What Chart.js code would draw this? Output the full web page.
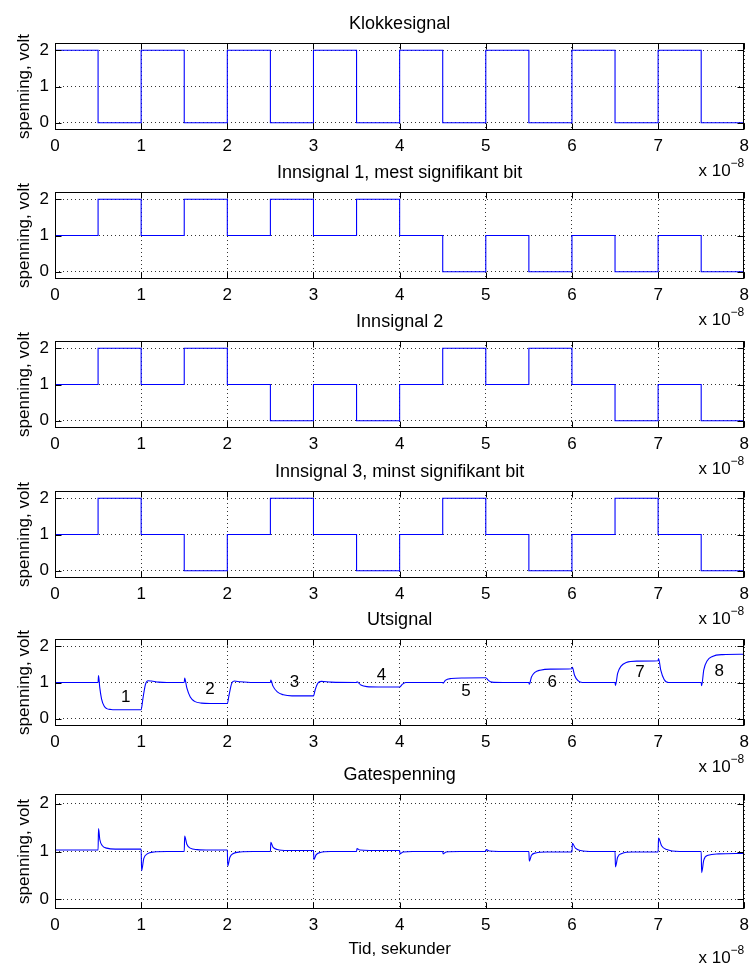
<!DOCTYPE html>
<html>
<head>
<meta charset="utf-8">
<script src="https://cdn.jsdelivr.net/npm/chart.js@4.4.1/dist/chart.umd.min.js"></script>
<style>
    body { margin: 0; background: #fff; width: 755px; height: 967px; position: relative; overflow: hidden; }
    canvas { position: absolute; left: 0; }
</style>
</head>
<body>
<div id="plots"></div>
<script>
// Edge times (x 1e-8 s) and the level held from each edge to the next
const edgeTimes = [0, 0.5, 1, 1.5, 2, 2.5, 3, 3.5, 4, 4.5, 5, 5.5, 6, 6.5, 7, 7.5, 8];
const clockLevels = [2, 0, 2, 0, 2, 0, 2, 0, 2, 0, 2, 0, 2, 0, 2, 0];
const in1Levels = [1, 2, 1, 2, 1, 2, 1, 2, 1, 0, 1, 0, 1, 0, 1, 0];
const in2Levels = [1, 2, 1, 2, 1, 0, 1, 0, 1, 2, 1, 2, 1, 0, 1, 0];
const in3Levels = [1, 2, 1, 0, 1, 2, 1, 0, 1, 2, 1, 0, 1, 2, 1, 0];

// Utsignal
const utTime = [0, 0.5, 0.505, 0.52, 0.54, 0.57, 0.6, 0.65, 0.7, 1.0, 1.02, 1.05, 1.08, 1.12, 1.2, 1.3,
    1.5, 1.505, 1.53, 1.57, 1.62, 1.7, 1.8, 2.0, 2.02, 2.05, 2.08, 2.15, 2.3,
    2.5, 2.505, 2.53, 2.58, 2.65, 2.75, 3.0, 3.02, 3.05, 3.09, 3.2,
    3.5, 3.505, 3.55, 3.62, 3.75, 4.0, 4.03, 4.07,
    4.5, 4.505, 4.53, 4.6, 4.75, 5.0, 5.03, 5.07, 5.2,
    5.5, 5.505, 5.53, 5.57, 5.63, 5.75, 6.0, 6.005, 6.03, 6.07, 6.12,
    6.5, 6.505, 6.53, 6.57, 6.63, 6.75, 7.0, 7.005, 7.03, 7.07, 7.12,
    7.5, 7.505, 7.53, 7.57, 7.63, 7.75, 8.0];
const utVolt = [1.0, 1.0, 1.19, 0.85, 0.55, 0.35, 0.28, 0.255, 0.25, 0.25, 0.55, 0.95, 1.05, 1.04, 1.01, 1.0,
    1.0, 1.12, 0.85, 0.6, 0.48, 0.43, 0.42, 0.42, 0.65, 0.97, 1.04, 1.02, 1.0,
    1.0, 1.07, 0.9, 0.74, 0.66, 0.63, 0.63, 0.8, 0.98, 1.03, 1.01,
    1.0, 1.02, 0.93, 0.885, 0.875, 0.875, 0.95, 1.0,
    1.0, 0.98, 1.06, 1.11, 1.125, 1.13, 1.06, 1.01, 1.0,
    1.0, 0.95, 1.15, 1.28, 1.34, 1.37, 1.38, 1.42, 1.2, 1.05, 1.0,
    1.0, 0.92, 1.25, 1.45, 1.55, 1.59, 1.6, 1.66, 1.35, 1.08, 1.0,
    1.0, 0.91, 1.35, 1.6, 1.72, 1.77, 1.78];

// Gatespenning
const gateTime = [0, 0.5, 0.505, 0.52, 0.55, 0.6, 0.7, 1.0, 1.005, 1.03, 1.07, 1.15, 1.3,
    1.5, 1.505, 1.53, 1.57, 1.65, 1.8, 2.0, 2.005, 2.03, 2.07, 2.15, 2.3,
    2.5, 2.505, 2.53, 2.58, 2.7, 3.0, 3.005, 3.03, 3.08, 3.2,
    3.5, 3.505, 3.54, 3.65, 4.0, 4.005, 4.04, 4.15,
    4.5, 4.505, 4.54, 4.7, 5.0, 5.005, 5.04, 5.15,
    5.5, 5.505, 5.53, 5.58, 5.7, 6.0, 6.005, 6.04, 6.1, 6.25,
    6.5, 6.505, 6.53, 6.58, 6.7, 7.0, 7.005, 7.04, 7.1, 7.25,
    7.5, 7.505, 7.53, 7.58, 7.7, 8.0];
const gateVolt = [1.03, 1.03, 1.48, 1.25, 1.12, 1.07, 1.05, 1.05, 0.6, 0.85, 0.95, 0.99, 1.0,
    1.0, 1.32, 1.15, 1.07, 1.04, 1.03, 1.03, 0.7, 0.88, 0.96, 0.99, 1.0,
    1.0, 1.19, 1.09, 1.04, 1.02, 1.02, 0.83, 0.93, 0.98, 1.0,
    1.0, 1.06, 1.03, 1.02, 1.02, 0.95, 0.99, 1.0,
    1.0, 0.95, 0.99, 1.0, 1.0, 1.04, 1.01, 1.0,
    1.0, 0.8, 0.92, 0.97, 0.99, 0.99, 1.17, 1.07, 1.02, 1.0,
    1.0, 0.68, 0.88, 0.96, 0.99, 0.99, 1.28, 1.12, 1.04, 1.0,
    1.0, 0.56, 0.82, 0.92, 0.95, 0.96];

// numbered steps written into the Utsignal plot
const utLabels = ['1', '2', '3', '4', '5', '6', '7', '8'];
const utLabelTime = [0.82, 1.8, 2.78, 3.79, 4.77, 5.77, 6.79, 7.71];
const utLabelVolt = [0.6, 0.8, 1.0, 1.19, 0.77, 1.0, 1.27, 1.32];

const xTicks = [0, 1, 2, 3, 4, 5, 6, 7, 8];
const yTicks = [0, 1, 2];

const FONT = '"Liberation Sans", Arial, Helvetica, sans-serif';
const PAD_TOP = 40;
const PAD_BOTTOM = 62;

function stepPoints(levels) {
    const pts = levels.map((v, i) => ({ x: edgeTimes[i], y: v }));
    pts.push({ x: edgeTimes[levels.length], y: levels[levels.length - 1] });
    return pts;
}

function curvePoints(times, volts) {
    return times.map((t, i) => ({ x: t, y: volts[i] }));
}

// MATLAB-like box, inward ticks and the texts around each axes
const framePlugin = {
    id: 'frame',
    afterDraw(chart, args, opts) {
        const { ctx, chartArea: a, scales: { x, y } } = chart;
        const L = Math.round(a.left) + 0.5, R = Math.round(a.right) - 0.5;
        const T = Math.round(a.top) + 0.5, B = Math.round(a.bottom) - 0.5;
        ctx.save();
        ctx.strokeStyle = '#000';
        ctx.lineWidth = 1;
        ctx.strokeRect(L, T, R - L, B - T);
        ctx.beginPath();
        xTicks.forEach(t => {
            const px = Math.round(x.getPixelForValue(t)) + 0.5;
            ctx.moveTo(px, B); ctx.lineTo(px, B - 6);
            ctx.moveTo(px, T); ctx.lineTo(px, T + 6);
        });
        yTicks.forEach(v => {
            const py = Math.round(y.getPixelForValue(v)) + 0.5;
            ctx.moveTo(L, py); ctx.lineTo(L + 6, py);
            ctx.moveTo(R, py); ctx.lineTo(R - 6, py);
        });
        ctx.stroke();

        ctx.fillStyle = '#000';
        ctx.textAlign = 'center';
        ctx.textBaseline = 'alphabetic';
        ctx.font = '18px ' + FONT;
        ctx.fillText(opts.title, (a.left + a.right) / 2, a.top - 14);

        ctx.save();
        ctx.font = '17px ' + FONT;
        ctx.translate(24, (a.top + a.bottom) / 2);
        ctx.rotate(-Math.PI / 2);
        ctx.textBaseline = 'middle';
        ctx.fillText('spenning, volt', 0, 0);
        ctx.restore();

        // exponent of the x axis
        ctx.textAlign = 'right';
        ctx.font = '12px ' + FONT;
        const supW = ctx.measureText('\u22128').width;
        ctx.fillText('\u22128', a.right, a.bottom + opts.expOffset - 9);
        ctx.font = '17px ' + FONT;
        ctx.fillText('x 10', a.right - supW, a.bottom + opts.expOffset);

        if (opts.xlabel) {
            ctx.textAlign = 'center';
            ctx.fillText(opts.xlabel, (a.left + a.right) / 2, a.bottom + 45);
        }

        if (opts.notes) {
            ctx.textAlign = 'center';
            ctx.textBaseline = 'middle';
            opts.notes.text.forEach((s, i) => {
                ctx.fillText(s, x.getPixelForValue(opts.notes.time[i]), y.getPixelForValue(opts.notes.volt[i]));
            });
        }
        ctx.restore();
    }
};

const panels = [
    { title: 'Klokkesignal', top: 43, height: 87, points: stepPoints(clockLevels), stepped: true },
    { title: 'Innsignal 1, mest signifikant bit', top: 192, height: 87, points: stepPoints(in1Levels), stepped: true },
    { title: 'Innsignal 2', top: 341, height: 87, points: stepPoints(in2Levels), stepped: true },
    { title: 'Innsignal 3, minst signifikant bit', top: 491, height: 87, points: stepPoints(in3Levels), stepped: true },
    { title: 'Utsignal', top: 639, height: 87, points: curvePoints(utTime, utVolt), stepped: false,
      notes: { text: utLabels, time: utLabelTime, volt: utLabelVolt } },
    { title: 'Gatespenning', top: 794, height: 115, points: curvePoints(gateTime, gateVolt), stepped: false,
      xlabel: 'Tid, sekunder', expOffset: 54 }
];

const holder = document.getElementById('plots');
panels.forEach(p => {
    const canvas = document.createElement('canvas');
    canvas.width = 755;
    canvas.height = PAD_TOP + p.height + PAD_BOTTOM;
    canvas.style.top = (p.top - PAD_TOP) + 'px';
    holder.appendChild(canvas);

    new Chart(canvas.getContext('2d'), {
        type: 'line',
        data: {
            datasets: [{
                data: p.points,
                borderColor: '#0000ff',
                borderWidth: 1.1,
                pointRadius: 0,
                stepped: p.stepped,
                cubicInterpolationMode: p.stepped ? 'default' : 'monotone'
            }]
        },
        plugins: [framePlugin],
        options: {
            responsive: false,
            animation: false,
            events: [],
            layout: { padding: { top: PAD_TOP, right: 7, left: 0, bottom: 0 } },
            plugins: {
                legend: { display: false },
                tooltip: { enabled: false },
                frame: {
                    title: p.title,
                    xlabel: p.xlabel,
                    expOffset: p.expOffset || 46,
                    notes: p.notes
                }
            },
            scales: {
                x: {
                    type: 'linear',
                    min: 0,
                    max: 8,
                    afterBuildTicks: axis => { axis.ticks = xTicks.map(v => ({ value: v })); },
                    afterFit: axis => { axis.height = PAD_BOTTOM; },
                    ticks: { color: '#000', font: { family: FONT, size: 17 }, padding: 6, maxRotation: 0, autoSkip: false },
                    grid: { color: '#333', lineWidth: 1, drawTicks: false },
                    border: { display: false, dash: [1, 3] }
                },
                y: {
                    min: -0.2,
                    max: 2.2,
                    afterBuildTicks: axis => { axis.ticks = yTicks.map(v => ({ value: v })); },
                    afterFit: axis => { axis.width = 55; },
                    ticks: { color: '#000', font: { family: FONT, size: 17 }, padding: 6 },
                    grid: { color: '#333', lineWidth: 1, drawTicks: false },
                    border: { display: false, dash: [1, 3] }
                }
            }
        }
    });
});
</script>
</body>
</html>
